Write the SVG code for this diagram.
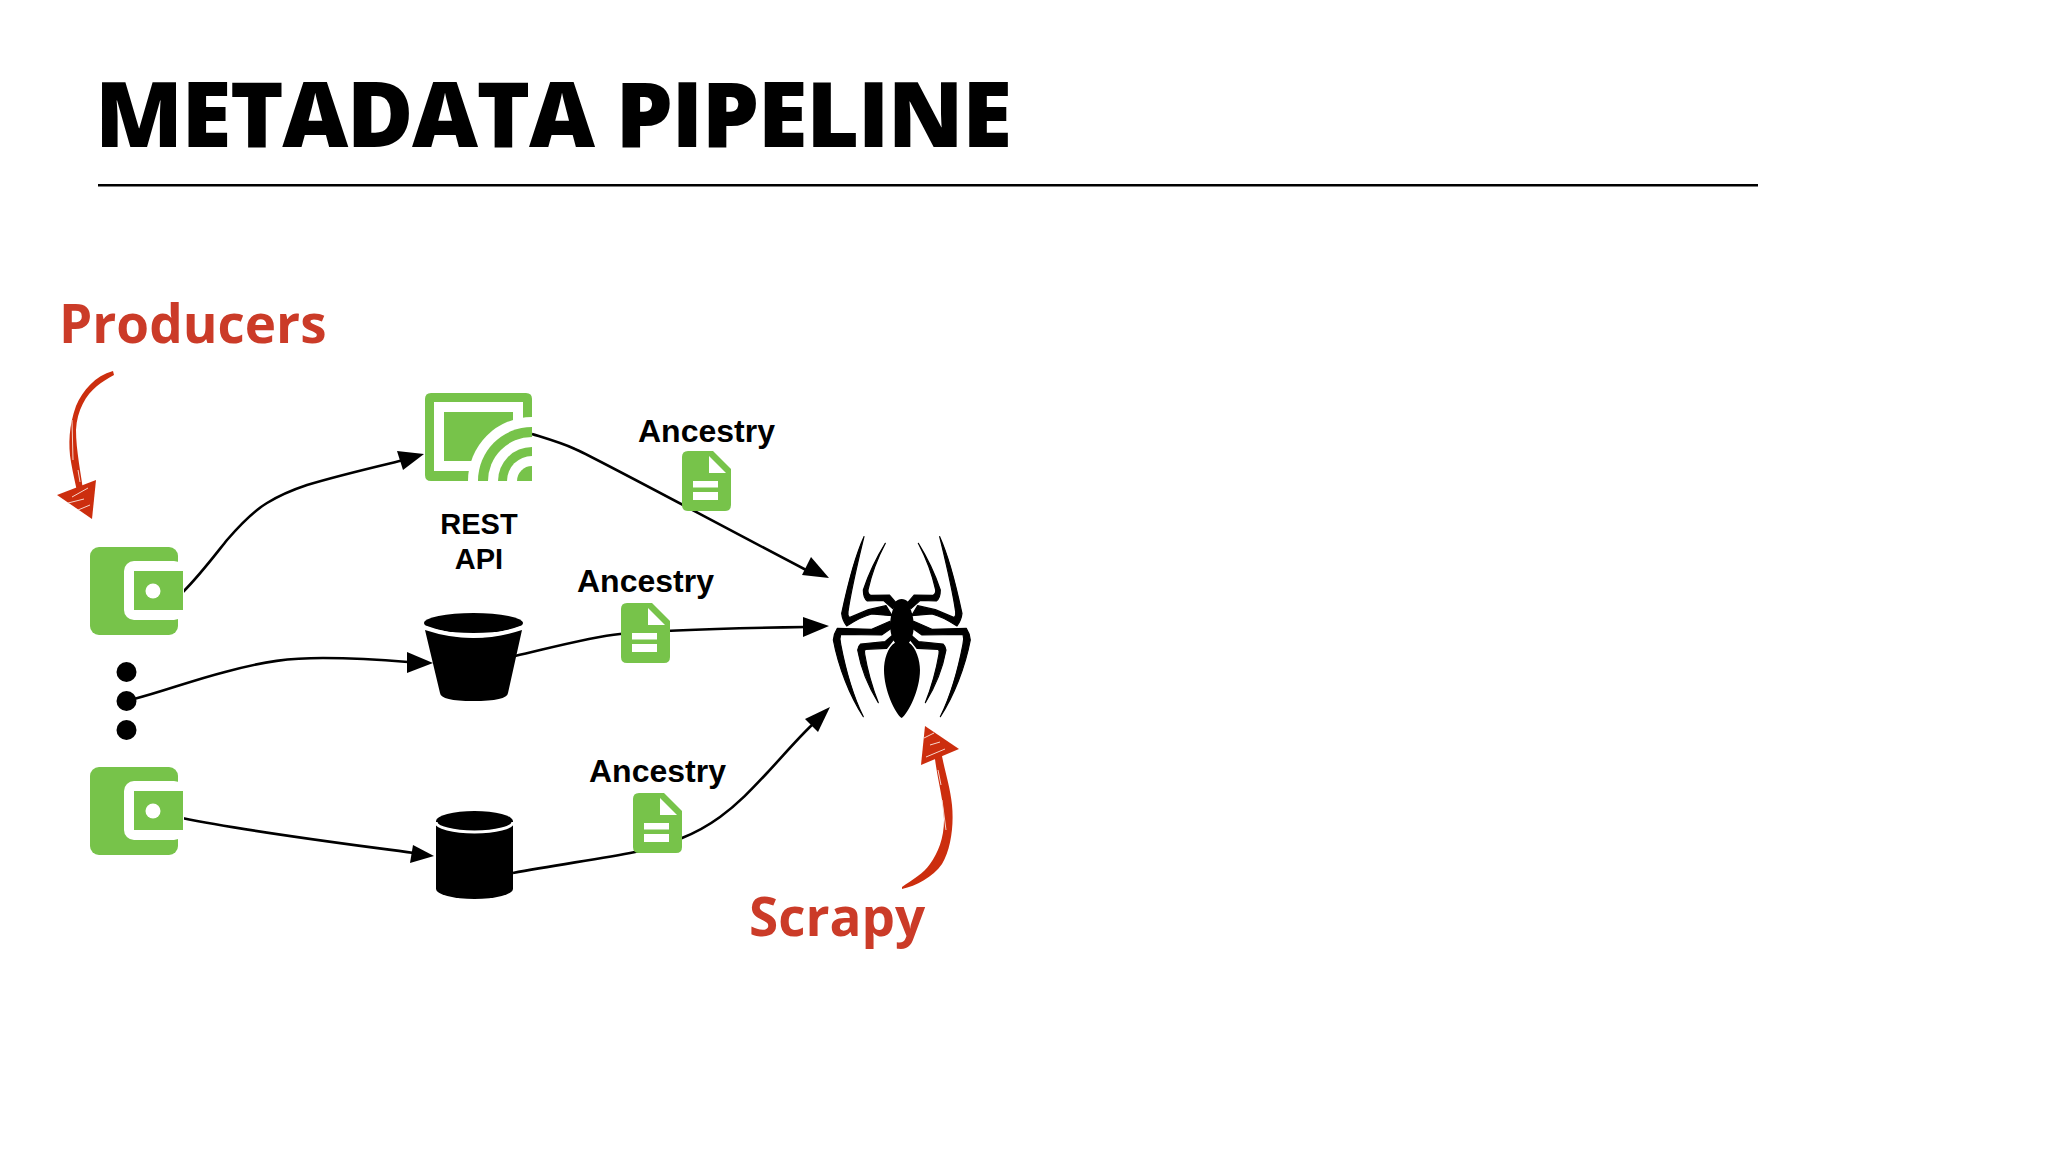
<svg xmlns="http://www.w3.org/2000/svg" width="2048" height="1152" viewBox="0 0 2048 1152">
<style>
.g{fill:#77c34a}
.w{fill:#fff}
.k{fill:#000}
.conn{fill:none;stroke:#000;stroke-width:2.6}
.head{fill:#000;stroke:none}
.anc{font-family:"Liberation Sans",Arial,sans-serif;font-weight:700;font-size:32px;fill:#000}
.api{font-family:"Liberation Sans",Arial,sans-serif;font-weight:700;font-size:29px;fill:#000;text-anchor:middle}
.red{font-family:"Open Sans",sans-serif;font-weight:700;font-size:53px;fill:#cb3b28}
.ttl{font-family:"Open Sans",sans-serif;font-weight:800;font-size:91px;letter-spacing:-1.5px;fill:#000}
.ra{fill:#cc2e0e}
.sc{fill:none;stroke:#f6d6cc;stroke-width:1}
.lg{fill:#000;stroke:#000;stroke-width:3.500;stroke-linejoin:round}
</style>
<defs>
<g id="wallet">
<rect class="g" x="90" y="547" width="88" height="88" rx="9"/>
<rect class="w" x="124" y="561" width="60" height="59" rx="10"/>
<rect class="g" x="134" y="571" width="49" height="39"/>
<circle class="w" cx="153" cy="591" r="7.5"/>
</g>
<g id="doc">
<path class="g" d="M688 451H713L731 469V505Q731 511 725 511H688Q682 511 682 505V457Q682 451 688 451Z"/>
<path class="w" d="M709 456V473H726Z"/>
<rect class="w" x="693" y="481" width="25" height="6.5"/>
<rect class="w" x="693" y="492" width="25" height="8"/>
</g>
<clipPath id="restClip"><path d="M431 393H526Q532 393 532 399V481H431Q425 481 425 475V399Q425 393 431 393Z"/></clipPath>
<g id="leg" class="lg">
<path d="M256 130C228 175 205 225 190 270Q190 295 202 303L250 301L278 326L288 308L268 285L212 286Q203 283 204 270C215 220 235 170 256 130Z"/>
<path d="M192 110C160 180 140 270 125 340Q127 360 140 378C165 362 190 348 215 342L276 347L258 317L205 329L148 353Q142 345 144 335C155 260 175 180 192 110Z"/>
<path d="M190 650C150 590 115 500 100 420Q102 400 112 385L215 388L270 364L274 385L245 405L122 403Q118 415 122 432C135 500 160 590 190 650Z"/>
<path d="M235 608C205 560 182 500 173 450Q175 438 182 432L255 425L275 408L280 420L260 445L196 448Q192 452 194 462C203 515 220 570 235 608Z"/>
</g>
</defs>
<rect width="2048" height="1152" fill="#fff"/>
<text id="title" class="ttl" x="95" y="147">METADATA PIPELINE</text>
<rect id="rule" x="98" y="184" width="1660" height="2.5" fill="#000"/>
<g id="connectors">
<path class="conn" d="M183 592C200 575 215 555 227 540C240 525 252 512 267 503C280 495 295 489 307 485C340 475 375 467 404 460"/>
<path class="head" d="M424 454L403 470L397 451Z"/>
<path class="conn" d="M134 699C165 691 190 681 225 672C265 661 290 658 323 658C350 658 385 660 408 662"/>
<path class="head" d="M433 663L407 673L407 652Z"/>
<path class="conn" d="M182 818C250 832 340 843 414 853"/>
<path class="head" d="M434 856L410 863L413 845Z"/>
<path class="conn" d="M532 434C548 439 562 443 575 449C590 455 720 525 808 571"/>
<path class="head" d="M829 578L802 575L811 557Z"/>
<path class="conn" d="M515 656C550 648 590 637 620 634C660 630 740 628 806 627"/>
<path class="head" d="M829 626L803 637L803 617Z"/>
<path class="conn" d="M513 873C555 865 600 859 635 852C652 849 668 844 682 838C697 832 709 825 720 817C738 804 752 789 767 773C782 757 798 738 813 724"/>
<path class="head" d="M830 707L818 732L805 719Z"/>
</g>
<g id="wallet-top"><use href="#wallet"/></g>
<g id="wallet-bottom"><use href="#wallet" y="220"/></g>
<g id="ellipsis">
<circle class="k" cx="126.500" cy="672" r="10"/>
<circle class="k" cx="126.500" cy="701" r="10"/>
<circle class="k" cx="126.500" cy="730" r="10"/>
</g>
<g id="rest-api">
<g clip-path="url(#restClip)">
<rect class="g" x="425" y="393" width="107" height="88"/>
<rect class="w" x="434" y="402" width="89" height="69"/>
<rect class="g" x="444" y="412" width="69" height="49"/>
<circle class="w" cx="532" cy="481" r="64"/>
<circle class="g" cx="532" cy="481" r="54"/>
<circle class="w" cx="532" cy="481" r="44"/>
<circle class="g" cx="532" cy="481" r="34"/>
<circle class="w" cx="532" cy="481" r="25"/>
<circle class="g" cx="532" cy="481" r="15"/>
</g>
<text class="api" x="479" y="534">REST</text>
<text class="api" x="479" y="569">API</text>
</g>
<g id="bucket">
<path class="k" d="M425 630Q473 646 522 630L508 693Q507 701 473 701Q441 701 440 693Z"/>
<ellipse class="k" cx="473.5" cy="623" rx="49.5" ry="10"/>
<path d="M425 627Q473 645 522 627" fill="none" stroke="#fff" stroke-width="3"/>
</g>
<g id="cylinder">
<path class="k" d="M436 821A38.500 10 0 0 1 513 821V889A38.500 10 0 0 1 436 889Z"/>
<path d="M436 822A38.500 10 0 0 0 513 822" fill="none" stroke="#fff" stroke-width="3"/>
</g>
<g id="doc-1"><use href="#doc"/><text class="anc" x="638" y="442">Ancestry</text></g>
<g id="doc-2"><use href="#doc" x="-61" y="152"/><text class="anc" x="577" y="592">Ancestry</text></g>
<g id="doc-3"><use href="#doc" x="-49" y="342"/><text class="anc" x="589" y="782">Ancestry</text></g>
<g id="spider" transform="translate(800 500) scale(.3333)">
<path class="k" d="M305 297C290 297 281 308 280 325C273 345 268 365 272 395C275 410 278 420 285 428C262 442 252 480 252 510C252 570 285 640 305 654C325 640 360 570 360 510C360 480 348 442 327 428C334 420 337 410 340 395C344 365 338 345 331 325C330 308 320 297 305 297Z"/>
<use href="#leg"/>
<use href="#leg" transform="translate(611 0) scale(-1 1)"/>
</g>
<g id="producers">
<text class="red" x="59" y="343">Producers</text>
<path class="ra" d="M113 371C95 376 83 390 76 406C69 425 68 445 71 462C73 474 76 486 78 496L84 496C81 474 76 450 76 430C77 410 86 395 97 386C102 382 108 378 114 375Z"/>
<path class="ra" d="M57 495L96 480L92 519Z"/>
<path class="sc" d="M72 497L88 488M68 503L84 499M78 510L90 505M72 420L73 460M78 470L80 482"/>
</g>
<g id="scrapy">
<text class="red" x="749" y="936">Scrapy</text>
<path class="ra" d="M902 889C916 886 933 877 942 864C951 849 954 825 952 805C950 785 944 770 941 750L934 750C936 775 944 800 944 820C944 838 938 853 930 864C924 873 912 880 902 887Z"/>
<path class="ra" d="M925 726L959 749L921 765Z"/>
<path class="sc" d="M926 757L945 749M930 745L940 742M924 738L934 733M942 800L946 830M938 770L941 785"/>
</g>
</svg>
